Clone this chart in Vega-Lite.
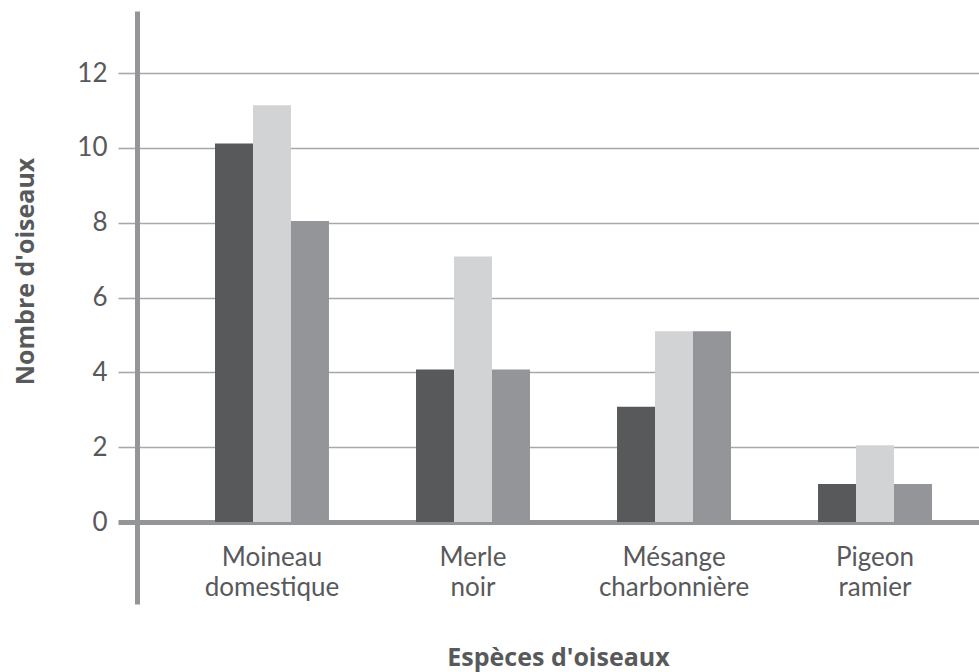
{
  "$schema": "https://vega.github.io/schema/vega-lite/v6.json",
  "width": 842,
  "height": 593,
  "autosize": {"type": "none"},
  "padding": {"left": 137, "top": 11, "right": 0, "bottom": 68},
  "background": "white",
  "config": {"view": {"stroke": null}},
  "data": {
    "values": [
      {"espece": "Moineau domestique", "serie": "Série 1", "nombre": 10.12},
      {"espece": "Moineau domestique", "serie": "Série 2", "nombre": 11.14},
      {"espece": "Moineau domestique", "serie": "Série 3", "nombre": 8.05},
      {"espece": "Merle noir", "serie": "Série 1", "nombre": 4.08},
      {"espece": "Merle noir", "serie": "Série 2", "nombre": 7.1},
      {"espece": "Merle noir", "serie": "Série 3", "nombre": 4.08},
      {"espece": "Mésange charbonnière", "serie": "Série 1", "nombre": 3.08},
      {"espece": "Mésange charbonnière", "serie": "Série 2", "nombre": 5.1},
      {"espece": "Mésange charbonnière", "serie": "Série 3", "nombre": 5.1},
      {"espece": "Pigeon ramier", "serie": "Série 1", "nombre": 1.02},
      {"espece": "Pigeon ramier", "serie": "Série 2", "nombre": 2.05},
      {"espece": "Pigeon ramier", "serie": "Série 3", "nombre": 1.02}
    ]
  },
  "mark": {"type": "bar"},
  "encoding": {
    "x": {
      "field": "espece",
      "type": "nominal",
      "sort": null,
      "scale": {"paddingInner": 0.433, "paddingOuter": 0.311, "align": 0.624},
      "axis": {
        "title": "Espèces d'oiseaux",
        "labelAngle": 0,
        "domain": false,
        "ticks": false,
        "tickSize": 0,
        "grid": false,
        "labelExpr": "split(datum.label, ' ')",
        "labelFont": "Lato",
        "labelFontSize": 26,
        "labelColor": "#58595b",
        "labelBaseline": "alphabetic",
        "labelLineHeight": 30,
        "labelPadding": -39,
        "labelAlign": "center",
        "titleFont": "Open Sans",
        "titleFontSize": 25,
        "titleFontWeight": "bold",
        "titleColor": "#58595b",
        "titleBaseline": "alphabetic",
        "titleY": 61
      }
    },
    "xOffset": {"field": "serie", "type": "nominal", "scale": {"paddingInner": 0, "paddingOuter": 0}},
    "y": {
      "field": "nombre",
      "type": "quantitative",
      "stack": null,
      "scale": {"domain": [-2.19, 13.66], "nice": false, "zero": false},
      "axis": {
        "title": "Nombre d'oiseaux",
        "values": [0, 2, 4, 6, 8, 10, 12],
        "domainColor": "#939598",
        "domainWidth": 5,
        "tickSize": 19,
        "tickColor": {"condition": {"test": "datum.value === 0", "value": "#939598"}, "value": "#a6a8ab"},
        "tickWidth": {"condition": {"test": "datum.value === 0", "value": 5}, "value": 1.6},
        "grid": true,
        "gridColor": {"condition": {"test": "datum.value === 0", "value": "#939598"}, "value": "#a6a8ab"},
        "gridWidth": {"condition": {"test": "datum.value === 0", "value": 5}, "value": 1.6},
        "labelFont": "Lato",
        "labelFontSize": 26,
        "labelColor": "#58595b",
        "labelPadding": 11,
        "titleFont": "Open Sans",
        "titleFontSize": 25,
        "titleFontWeight": "bold",
        "titleColor": "#58595b",
        "titleAngle": -90,
        "titleBaseline": "alphabetic",
        "titleAlign": "center",
        "titleX": -104,
        "titleY": 260
      }
    },
    "y2": {"datum": 0},
    "color": {
      "field": "serie",
      "type": "nominal",
      "legend": null,
      "scale": {"domain": ["Série 1", "Série 2", "Série 3"], "range": ["#58595b", "#d1d3d4", "#939598"]}
    }
  }
}
